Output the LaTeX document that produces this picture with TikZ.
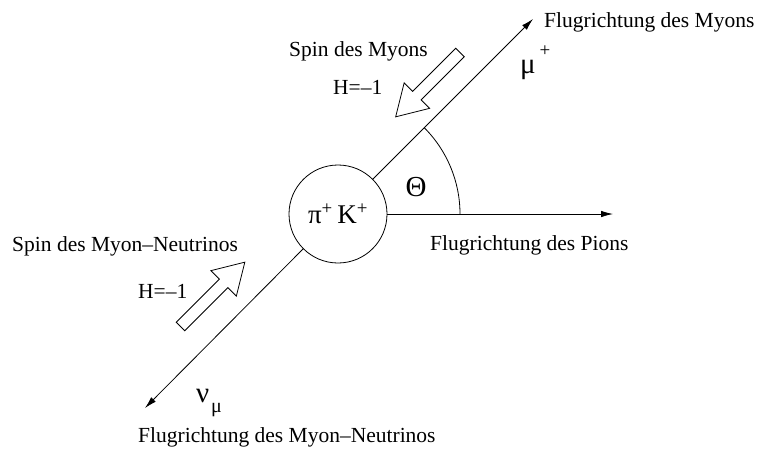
\documentclass[tikz,border=0pt]{standalone}
\usepackage{fontspec}
\setmainfont{Liberation Serif}
\usetikzlibrary{arrows.meta}
\tikzset{
  lbl/.style={inner sep=0pt, anchor=base west, font=\fontsize{21.5}{26}\selectfont},
  big/.style={inner sep=0pt, font=\fontsize{29}{32}\selectfont},
  flow/.style={line width=0.8pt, -{Latex[length=12pt,width=6.5pt]}},
  hollow/.style={line width=0.8pt, fill=white, line join=miter},
}
\begin{document}
\begin{tikzpicture}[x=1pt,y=1pt]
\useasboundingbox (0,0) rectangle (758,-451);
% centre particle
\node[draw, circle, line width=0.8pt, minimum size=98pt, inner sep=0pt,
      font=\fontsize{27}{30}\selectfont] (pk) at (338,-214) {π\textsuperscript{+}\,K\textsuperscript{+}};
% flight directions
\coordinate (mutip) at (533,-19);
\coordinate (piontip) at (613,-214);
\coordinate (nutip) at (145,-408);
\draw[flow] (pk.45) -- (mutip);
\draw[flow] (pk.east) -- (piontip);
\draw[flow] (pk.225) -- (nutip);
% angle arc
\coordinate (arcstart) at (460,-214);
\draw[line width=0.8pt] (arcstart) arc[start angle=0, end angle=45, radius=122pt];
\node[big] (theta) at (416,-187) {Θ};
% hollow spin arrows
\begin{scope}[shift={(460,-52.5)}, rotate=225]
  \draw[hollow] (0,6) -- (61,6) -- (61,18) -- (91,0) -- (61,-18) -- (61,-6) -- (0,-6) -- cycle;
\end{scope}
\begin{scope}[shift={(180.5,-326.5)}, rotate=45]
  \draw[hollow] (0,6) -- (61,6) -- (61,18) -- (91,0) -- (61,-18) -- (61,-6) -- (0,-6) -- cycle;
\end{scope}
% labels
\node[lbl] (fmy) at (544,-27) {Flugrichtung des Myons};
\node[lbl] (smy) at (289,-56) {Spin des Myons};
\node[lbl] (h1) at (333,-94) {H=–1};
\node[lbl] (fpi) at (430,-250) {Flugrichtung des Pions};
\node[lbl] (snu) at (12,-251) {Spin des Myon–Neutrinos};
\node[lbl] (h2) at (138,-298) {H=–1};
\node[lbl] (fnu) at (138,-442) {Flugrichtung des Myon–Neutrinos};
% particle symbols
\node[big, anchor=base west] (mu) at (520,-73) {μ};
\node[inner sep=0pt, font=\fontsize{19}{22}\selectfont] (muplus) at (545,-51) {+};
\node[big, anchor=base west] (nu) at (196,-402) {ν};
\node[inner sep=0pt, anchor=base west, font=\fontsize{20}{22}\selectfont] (nusub) at (211,-412) {μ};
\end{tikzpicture}
\end{document}
